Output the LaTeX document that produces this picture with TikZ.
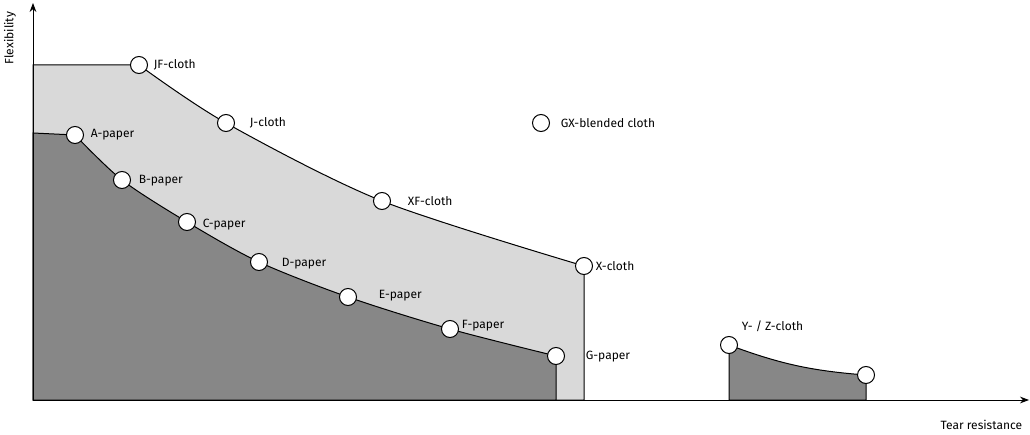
\documentclass[tikz,border=0pt]{standalone}
\usepackage{fontspec}
\setmainfont{Fira Sans}
\usetikzlibrary{arrows.meta}
\tikzset{
  dot/.style={circle,draw,fill=white,line width=1pt,minimum size=17pt,inner sep=0pt},
  lbl/.style={anchor=west,font=\fontsize{12pt}{14pt}\selectfont}
}
\begin{document}
\begin{tikzpicture}[x=1pt,y=-1pt,line width=1pt]
	\useasboundingbox (0,0) rectangle (1030,435);
	% regions
	\draw[fill=black!15] (33,400) -- (33,65) -- plot[smooth] coordinates {(139,65) (226,123) (382,201) (584,266)} -- (584,400) -- cycle;
	\draw[fill=black!47] (33,400) -- (33,133) -- plot[smooth] coordinates {(75,135) (122,180) (187,222) (259,262) (348,297) (450,329) (556,356)} -- (556,400) -- cycle;
	\draw[fill=black!47] (729,400) -- (729,345) to[bend right=8] (866,375) -- (866,400) -- cycle;
	% axes
	\draw[-{Stealth[length=9pt]}] (33,400) -- (33,3);
	\draw[-{Stealth[length=9pt]}] (33,400) -- (1029,400);
	\node[lbl,rotate=90,anchor=east] (ylab) at (10,8) {Flexibility};
	\node[lbl,anchor=east] (xlab) at (1026,425) {Tear resistance};
	% points
	\node[dot] (jf) at (139,65) {};  \node[lbl] at (150,65) {JF-cloth};
	\node[dot] (j) at (226,123) {};  \node[lbl] at (246,123) {J-cloth};
	\node[dot] (xf) at (382,201) {}; \node[lbl] at (404,201) {XF-cloth};
	\node[dot] (x) at (584,266) {};  \node[lbl] at (592,266) {X-cloth};
	\node[dot] (a) at (75,135) {};   \node[lbl] at (87,135) {A-paper};
	\node[dot] (b) at (122,180) {};  \node[lbl] at (135,181) {B-paper};
	\node[dot] (c) at (187,222) {};  \node[lbl] at (199,225) {C-paper};
	\node[dot] (d) at (259,262) {};  \node[lbl] at (278,264) {D-paper};
	\node[dot] (e) at (348,297) {};  \node[lbl] at (375,296) {E-paper};
	\node[dot] (f) at (450,329) {};  \node[lbl] at (458,326) {F-paper};
	\node[dot] (g) at (556,356) {};  \node[lbl] at (582,357) {G-paper};
	\node[dot] (y) at (729,345) {};  \node[lbl] at (738,326) {Y- / Z-cloth};
	\node[dot] (z) at (866,375) {};
	\node[dot] (gx) at (541,123) {}; \node[lbl] at (557,123) {GX-blended cloth};
\end{tikzpicture}
\end{document}
